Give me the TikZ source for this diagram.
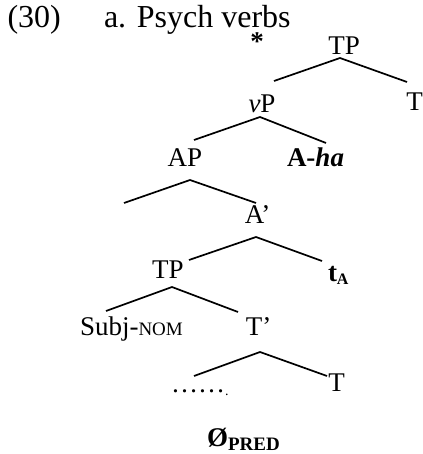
\documentclass[tikz,border=0pt]{standalone}
\usepackage{fontspec}
\setmainfont{Liberation Serif}
\newcommand\mysmcap[1]{{\fontsize{19}{22}\selectfont #1}}
\begin{document}
\begin{tikzpicture}[x=1pt,y=-1pt,
  lab/.style={anchor=base,inner sep=0pt,outer sep=0pt,font=\fontsize{27}{32}\selectfont},
  labw/.style={lab,anchor=base west},
  ttl/.style={anchor=base west,inner sep=0pt,outer sep=0pt,font=\fontsize{32}{38}\selectfont},
  br/.style={line width=1.7pt}]
\useasboundingbox (0,0) rectangle (422,454);
% title
\node[ttl] (num) at (7.5,28) {(30)};
\node[ttl] (title) at (104,28) {a. Psych verbs};
\node[lab] (star) at (257,51) {\textbf{*}};
% labels
\node[lab] (TPa) at (344,55) {TP};
\node[lab] (vP) at (262,113) {\textit{v}P};
\node[lab] (Ta) at (414.5,111) {T};
\node[lab] (AP) at (185,167) {AP};
\node[lab] (Aha) at (315.5,167) {\textbf{A-\textit{ha}}};
\node[lab] (Abar) at (257.5,223) {A’};
\node[lab] (TPb) at (168,278) {TP};
\node[labw] (tA) at (328,281) {\textbf{t}\raisebox{-3pt}{\fontsize{16}{18}\selectfont\bfseries A}};
\node[labw] (subj) at (80,335) {Subj-\mysmcap{NOM}};
\node[lab] (Tbar) at (258.5,335) {T’};
\node[labw] (dots) at (171,392) {……\raisebox{-3pt}{\fontsize{14}{16}\selectfont .}};
\node[lab] (Tb) at (336.5,391) {T};
\node[labw] (zero) at (207,446) {\textbf{Ø}\raisebox{-4pt}{\fontsize{19}{22}\selectfont\bfseries PRED}};
% branch points
\coordinate (c1) at (340,58);  \coordinate (c1l) at (274,81);  \coordinate (c1r) at (407,82);
\coordinate (c2) at (260,117); \coordinate (c2l) at (194,140); \coordinate (c2r) at (326,143);
\coordinate (c3) at (190,180); \coordinate (c3l) at (124,203); \coordinate (c3r) at (256,203);
\coordinate (c4) at (256,237); \coordinate (c4l) at (189,260); \coordinate (c4r) at (322,261);
\coordinate (c5) at (172,287); \coordinate (c5l) at (106,311); \coordinate (c5r) at (238,312);
\coordinate (c6) at (260,352); \coordinate (c6l) at (194,376); \coordinate (c6r) at (327,376);
\draw[br] (c1l) -- (c1) -- (c1r);
\draw[br] (c2l) -- (c2) -- (c2r);
\draw[br] (c3l) -- (c3) -- (c3r);
\draw[br] (c4l) -- (c4) -- (c4r);
\draw[br] (c5l) -- (c5) -- (c5r);
\draw[br] (c6l) -- (c6) -- (c6r);
\end{tikzpicture}
\end{document}
